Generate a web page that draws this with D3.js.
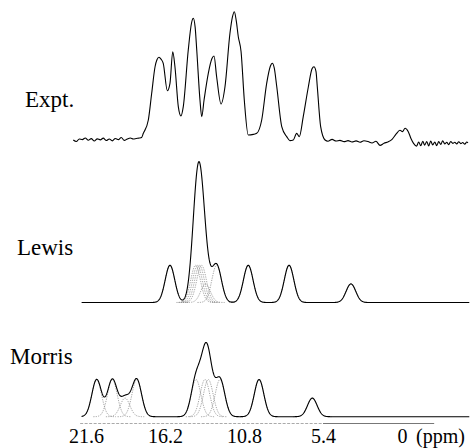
<!DOCTYPE html>
<html>
<head>
<meta charset="utf-8">
<script src="https://cdn.jsdelivr.net/npm/d3@7"></script>
<style>
  html, body { margin: 0; padding: 0; background: #fff; }
  svg { display: block; }
  text { font-family: "Liberation Serif", "Times New Roman", serif; fill: #000; }
</style>
</head>
<body>
<svg id="chart" width="473" height="448"></svg>
<script>
// ---------------- DATA ----------------
const exptPpm = [22.47,22.26,22.06,21.85,21.65,21.44,21.24,21.03,20.83,20.62,20.42,20.21,20.01,19.80,19.60,19.39,19.19,18.98,18.78,18.57,18.37,18.16,17.96,17.80,
  17.68,17.34,17.11,16.88,16.75,16.61,16.47,16.32,16.04,15.86,15.67,15.52,15.29,15.11,14.95,14.61,14.39,14.27,14.14,14.03,13.81,13.69,13.53,13.24,12.99,12.85,12.67,12.37,12.10,
  11.76,11.59,11.46,11.33,11.19,11.00,10.78,10.51,10.16,9.93,9.59,9.25,9.00,8.87,8.73,8.56,8.22,7.88,7.66,7.43,7.20,7.02,6.75,6.40,6.15,6.02,5.88,5.79,5.56,5.26,
  5.06,4.78,4.51,4.24,3.96,3.69,3.42,3.14,2.87,2.60,2.32,2.05,1.78,1.50,1.23,0.96,0.68,0.41,
  0.14,-0.03,-0.21,-0.43,-0.62,-0.79,-1.00,
  -1.14,-1.28,-1.42,-1.55,-1.69,-1.83,-1.96,-2.10,-2.24,-2.37,-2.51,-2.65,-2.78,-2.92,-3.06,-3.19,-3.33,-3.47,-3.61,-3.74,-3.88,-4.02,-4.15,-4.29,-4.43,-4.51];
const exptInt = [0.0,-1.2,0.8,0.3,1.6,-0.2,1.1,-0.8,0.9,0.1,1.5,-0.4,0.8,-0.7,1.2,0.3,1.9,-0.3,0.8,1.6,0.8,1.2,1.5,2.0,
  5.2,15.6,36.4,57.1,62.5,64.5,63.0,59.8,38.4,44.2,68.8,57.1,26.0,18.7,26.0,70.1,91.0,94.9,88.0,70.1,31.2,18.2,31.2,52.0,63.5,65.5,49.3,28.1,41.5,
  83.2,96.0,100,93.0,80.5,68.8,31.2,3.9,4.4,5.2,15.6,44.2,57.5,59.8,56.0,41.5,10.4,2.6,-0.5,0.0,5.2,2.6,18.2,41.5,55.5,57.1,53.5,41.5,10.4,0.0,
  -1.0,0.5,-0.8,-0.3,-1.3,-0.5,-1.5,-0.7,-1.8,-0.6,-1.2,-2.3,-1.0,-4.2,-2.5,-1.5,0.5,4.5,
  7.6,6.5,9.2,6.5,1.0,-2.6,-4.8,
  -1.5,-4.5,-1.0,-4.0,-1.2,-4.6,-0.8,-3.8,-1.5,-4.4,-1.2,-3.5,-0.6,-3.0,-1.8,-3.6,-1.2,-2.6,-1.8,-3.0,-1.4,-2.8,-2.0,-3.2,-1.6,-2.2];

// Simulated spectra: Gaussian line components (centre in ppm, amplitude in arbitrary units)
const lewisCenters = [15.86, 14.11, 13.98, 13.84, 13.70, 13.43, 12.67, 10.51, 7.72, 3.49];
const lewisAmps    = [1, 1, 1, 1, 1, 0.5, 1, 1, 1, 0.5];
const morrisCenters = [20.87, 19.80, 18.93, 18.13, 14.08, 13.47, 13.24, 12.44, 9.77, 6.13];
const morrisAmps    = [1, 1, 0.5, 1, 1, 1, 1, 1, 1, 0.5];
const lineSigmaPpm = 0.328;   // Gaussian line width (sigma, ppm)
const simRange = [21.9, -4.6];

const tickValues = [21.6, 16.2, 10.8, 5.4, 0];
const panelLabels = ["Expt.", "Lewis", "Morris"];
const unitLabel = "(ppm)";

// ---------------- DRAW ----------------
const svg = d3.select("#chart");

const x = d3.scaleLinear().domain([21.6, 0]).range([86, 402]);

const yExpt = d3.scaleLinear().domain([0, 100]).range([140, 11.7]);
const yLewis = d3.scaleLinear().domain([0, 4]).range([302.5, 153.7]);
const yMorris = d3.scaleLinear().domain([0, 4]).range([416.7, 267.9]);

const simGrid = d3.range(simRange[0], simRange[1] - 0.001, -0.02);

function gauss(p, c, a) {
  const d = (p - c) / lineSigmaPpm;
  return a * Math.exp(-0.5 * d * d);
}

// Experimental trace
const exptPts = exptPpm.map((p, i) => [p, exptInt[i]]);
svg.append("path")
  .datum(exptPts)
  .attr("fill", "none")
  .attr("stroke", "#000")
  .attr("stroke-width", 1.1)
  .attr("stroke-linejoin", "round")
  .attr("d", d3.line().x(d => x(d[0])).y(d => yExpt(d[1])).curve(d3.curveMonotoneX));

function drawSim(centers, amps, y) {
  const g = svg.append("g");
  centers.forEach((c, i) => {
    const pts = simGrid.filter(p => Math.abs(p - c) <= 4 * lineSigmaPpm).map(p => [p, gauss(p, c, amps[i])]);
    g.append("path")
      .datum(pts)
      .attr("fill", "none")
      .attr("stroke", "#777")
      .attr("stroke-width", 0.7)
      .attr("stroke-dasharray", "1.2,1.2")
      .attr("d", d3.line().x(d => x(d[0])).y(d => y(d[1])));
  });
  const sumPts = simGrid.map(p => [p, d3.sum(centers, (c, i) => gauss(p, c, amps[i]))]);
  g.append("path")
    .datum(sumPts)
    .attr("fill", "none")
    .attr("stroke", "#000")
    .attr("stroke-width", 1.1)
    .attr("d", d3.line().x(d => x(d[0])).y(d => y(d[1])));
}
drawSim(lewisCenters, lewisAmps, yLewis);
drawSim(morrisCenters, morrisAmps, yMorris);

// Axis line (light, partly dotted) and labels
const axisY = 423.5;
svg.append("line")
  .attr("x1", x(22.0)).attr("x2", x(5.4)).attr("y1", axisY).attr("y2", axisY)
  .attr("stroke", "#aaa").attr("stroke-width", 1).attr("stroke-dasharray", "3,1.5");
svg.append("line")
  .attr("x1", x(5.4)).attr("x2", x(-2.2)).attr("y1", axisY).attr("y2", axisY)
  .attr("stroke", "#777").attr("stroke-width", 1);

const axis = d3.axisBottom(x)
  .tickValues(tickValues)
  .tickSize(0)
  .tickPadding(0)
  .tickFormat(d => d === 0 ? "0" : d3.format(".1f")(d));
const ag = svg.append("g").attr("transform", `translate(0,${axisY})`).call(axis);
ag.select(".domain").remove();
ag.selectAll("text")
  .attr("y", 19)
  .attr("dy", 0)
  .style("font-family", '"Liberation Serif", "Times New Roman", serif')
  .style("font-size", "20px")
  .attr("fill", "#000");

svg.append("text")
  .attr("x", x(0) + 14)
  .attr("y", axisY + 19)
  .style("font-size", "20px")
  .text(unitLabel);

// Panel labels
const labelPos = [[25, 107], [17, 255], [10, 364]];
panelLabels.forEach((t, i) => {
  svg.append("text")
    .attr("x", labelPos[i][0])
    .attr("y", labelPos[i][1])
    .style("font-size", "23px")
    .text(t);
});
</script>
</body>
</html>
